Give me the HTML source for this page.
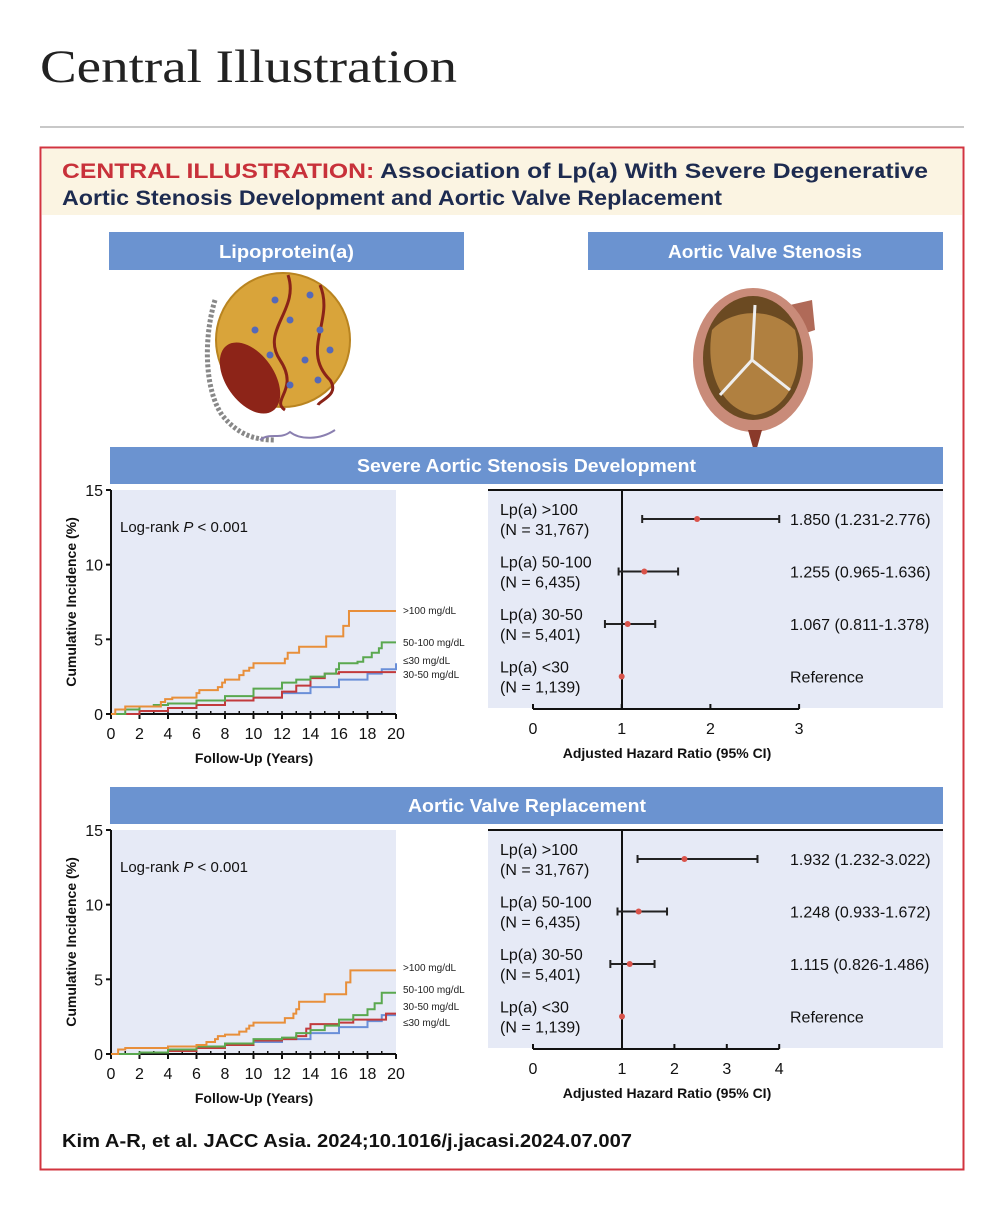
<!DOCTYPE html>
<html><head><meta charset="utf-8"><style>
body{margin:0;background:#fff;width:1004px;height:1200px;overflow:hidden;font-family:"Liberation Sans",sans-serif}
svg text{font-family:"Liberation Sans",sans-serif}
</style></head><body>
<svg id="root" width="1004" height="1200" viewBox="0 0 1004 1200" xmlns="http://www.w3.org/2000/svg">
<text x="40" y="82" font-family="Liberation Serif" style="font-family:'Liberation Serif',serif" font-size="47" textLength="417" lengthAdjust="spacingAndGlyphs" fill="#222">Central Illustration</text>
<rect x="40" y="126" width="924" height="2" fill="#c8c8c8"/>
<rect x="40.5" y="147.5" width="923" height="1022" fill="#fff" stroke="#d2343f" stroke-width="2"/>
<rect x="42" y="149" width="920" height="66" fill="#fbf4e2"/>
<text x="62" y="178" font-size="21" font-weight="bold" textLength="866" lengthAdjust="spacingAndGlyphs"><tspan fill="#c8313a">CENTRAL ILLUSTRATION:</tspan><tspan fill="#1d2b50"> Association of Lp(a) With Severe Degenerative</tspan></text>
<text x="62" y="205" font-size="21" font-weight="bold" fill="#1d2b50" textLength="660" lengthAdjust="spacingAndGlyphs">Aortic Stenosis Development and Aortic Valve Replacement</text>

<rect x="109" y="232" width="355" height="38" fill="#6b93d0"/>
<text x="219" y="258" font-size="18" font-weight="bold" fill="#fff" textLength="135" lengthAdjust="spacingAndGlyphs">Lipoprotein(a)</text>
<rect x="588" y="232" width="355" height="38" fill="#6b93d0"/>
<text x="668" y="258" font-size="18" font-weight="bold" fill="#fff" textLength="194" lengthAdjust="spacingAndGlyphs">Aortic Valve Stenosis</text>

<g>
<path d="M215,300 C203,340 205,390 222,415 C238,435 255,440 275,440" fill="none" stroke="#888" stroke-width="5" stroke-dasharray="3 2"/>
<path d="M260,440 C270,432 280,440 290,432 C300,440 320,440 335,430" fill="none" stroke="#8a7fb0" stroke-width="2"/>
<circle cx="283" cy="340" r="67" fill="#d9a43a"/>
<circle cx="283" cy="340" r="67" fill="none" stroke="#b98420" stroke-width="2"/>
<path d="M288,275 C300,310 260,330 280,360 C300,390 270,400 285,410" fill="none" stroke="#8a2318" stroke-width="3"/>
<path d="M320,285 C335,320 300,350 330,380 C340,395 320,400 318,405" fill="none" stroke="#8a2318" stroke-width="3"/>
<ellipse cx="250" cy="378" rx="24" ry="40" transform="rotate(-35 250 378)" fill="#8d2418"/>
<g fill="#5569b8"><circle cx="275" cy="300" r="3.5"/><circle cx="310" cy="295" r="3.5"/><circle cx="255" cy="330" r="3.5"/><circle cx="290" cy="320" r="3.5"/><circle cx="320" cy="330" r="3.5"/><circle cx="270" cy="355" r="3.5"/><circle cx="305" cy="360" r="3.5"/><circle cx="330" cy="350" r="3.5"/><circle cx="290" cy="385" r="3.5"/><circle cx="318" cy="380" r="3.5"/></g>
</g>
<g>
<path d="M790,305 L812,300 L815,330 L800,335 Z" fill="#b06a58"/>
<ellipse cx="753" cy="360" rx="60" ry="72" fill="#c98b79"/>
<ellipse cx="753" cy="358" rx="50" ry="62" fill="#6b4a22"/>
<path d="M712,330 C730,310 770,305 795,330 C805,370 790,410 755,415 C720,410 705,370 712,330 Z" fill="#b08040"/>
<path d="M755,305 L752,360 L720,395 M752,360 L790,390" stroke="#eee" stroke-width="3" fill="none"/>
<path d="M748,430 L755,455 L762,430 Z" fill="#8a3a2a"/>
</g>

<rect x="110" y="447" width="833" height="37" fill="#6b93d0"/>
<text x="357" y="472" font-size="18" font-weight="bold" fill="#fff" textLength="339" lengthAdjust="spacingAndGlyphs">Severe Aortic Stenosis Development</text>
<rect x="110" y="787" width="833" height="37" fill="#6b93d0"/>
<text x="408" y="812" font-size="18" font-weight="bold" fill="#fff" textLength="238" lengthAdjust="spacingAndGlyphs">Aortic Valve Replacement</text>

<g id="km1"></g>
<g id="km2"></g>
<g id="fp1"></g>
<g id="fp2"></g>

<text x="62" y="1147" font-size="18" font-weight="bold" fill="#111" textLength="570" lengthAdjust="spacingAndGlyphs">Kim A-R, et al. JACC Asia. 2024;10.1016/j.jacasi.2024.07.007</text>
</svg>
<script>
// ===== KM chart data =====
const kmYTicks = [0, 5, 10, 15];
const kmXTicks = [0, 2, 4, 6, 8, 10, 12, 14, 16, 18, 20];
const kmSeriesNames = [">100 mg/dL", "50-100 mg/dL", "≤30 mg/dL", "30-50 mg/dL"];
// chart 1 (severe AS)
const km1GT100_t = [0, 0.3, 1, 3.5, 3.8, 4.3, 6.0, 6.2, 7.5, 7.8, 8.0, 9.0, 9.3, 9.7, 10.0, 12.2, 12.4, 13.2, 15.1, 16.3, 16.7, 20];
const km1GT100_v = [0, 0.3, 0.5, 0.8, 1.0, 1.1, 1.4, 1.6, 1.8, 2.1, 2.3, 2.6, 2.9, 3.1, 3.4, 3.7, 4.1, 4.5, 5.2, 5.9, 6.9, 6.9];
const km1_50_t = [0, 1, 2, 3, 4, 6, 8, 10, 12, 13, 14, 15, 15.8, 16, 17.3, 17.7, 18.3, 18.8, 19, 20];
const km1_50_v = [0, 0.3, 0.5, 0.6, 0.7, 0.9, 1.2, 1.7, 2.1, 2.3, 2.5, 2.7, 3.0, 3.4, 3.5, 3.8, 4.1, 4.4, 4.8, 4.8];
const km1LE30_t = [0, 2, 4, 6, 8, 10, 12, 14, 16, 18, 19, 20];
const km1LE30_v = [0, 0.2, 0.4, 0.6, 0.9, 1.1, 1.4, 1.8, 2.3, 2.7, 3.0, 3.4];
const km1_30_t = [0, 2, 4, 6, 8, 10, 12, 13, 14, 15, 16, 20];
const km1_30_v = [0, 0.2, 0.4, 0.6, 0.9, 1.1, 1.5, 1.9, 2.4, 2.7, 2.8, 2.8];
// chart 2 (AVR)
const km2GT100_t = [0, 0.5, 1, 4, 6, 6.7, 7.3, 7.5, 8, 9, 9.5, 9.7, 10, 12.2, 12.8, 13, 13.2, 15, 16.5, 16.8, 20];
const km2GT100_v = [0, 0.3, 0.4, 0.5, 0.6, 0.8, 1.0, 1.2, 1.3, 1.5, 1.7, 1.9, 2.1, 2.4, 2.7, 3.0, 3.5, 4.0, 4.8, 5.6, 5.6];
const km2_50_t = [0, 2, 4, 6, 8, 10, 12, 13, 14, 15, 16, 17, 18, 18.5, 19, 20];
const km2_50_v = [0, 0.1, 0.3, 0.5, 0.7, 1.0, 1.1, 1.4, 1.6, 1.9, 2.3, 2.6, 3.0, 3.4, 4.1, 4.1];
const km2LE30_t = [0, 2, 4, 6, 8, 10, 12, 14, 16, 18, 19, 20];
const km2LE30_v = [0, 0.1, 0.2, 0.4, 0.6, 0.8, 1.0, 1.4, 1.8, 2.2, 2.6, 2.6];
const km2_30_t = [0, 2, 4, 6, 8, 10, 12, 13, 13.7, 14, 16, 17, 19.3, 20];
const km2_30_v = [0, 0.1, 0.2, 0.4, 0.6, 0.9, 1.0, 1.2, 1.7, 2.0, 2.1, 2.3, 2.7, 2.7];

// ===== Forest plot data =====
const fpLabels1 = ["Lp(a) >100", "Lp(a) 50-100", "Lp(a) 30-50", "Lp(a) <30"];
const fpN = ["(N = 31,767)", "(N = 6,435)", "(N = 5,401)", "(N = 1,139)"];
const fp1HR = [1.850, 1.255, 1.067, 1.0];
const fp1Lo = [1.231, 0.965, 0.811, 1.0];
const fp1Hi = [2.776, 1.636, 1.378, 1.0];
const fp1Text = ["1.850 (1.231-2.776)", "1.255 (0.965-1.636)", "1.067 (0.811-1.378)", "Reference"];
const fp1Ticks = [0, 1, 2, 3];
const fp2HR = [1.932, 1.248, 1.115, 1.0];
const fp2Lo = [1.232, 0.933, 0.826, 1.0];
const fp2Hi = [3.022, 1.672, 1.486, 1.0];
const fp2Text = ["1.932 (1.232-3.022)", "1.248 (0.933-1.672)", "1.115 (0.826-1.486)", "Reference"];
const fp2Ticks = [0, 1, 2, 3, 4];

const NS = "http://www.w3.org/2000/svg";
function mk(parent, tag, attrs, txt) {
  const e = document.createElementNS(NS, tag);
  for (const k in attrs) e.setAttribute(k, attrs[k]);
  if (txt !== undefined) e.textContent = txt;
  parent.appendChild(e);
  return e;
}
const colors = ["#e88f3a", "#5aa84f", "#6a8fd8", "#c23a3c"];

function drawKM(g, top, series, labelYs) {
  const x0 = 111, x1 = 396, y0 = top + 224, y1 = top;
  const sx = t => x0 + (t / 20) * (x1 - x0);
  const sy = v => y0 - (v / 15) * (y0 - y1);
  let e = mk(g, "rect", {x: x0, y: y1, width: x1 - x0, height: y0 - y1, fill: "#e6eaf6"});
  
  
  e = mk(g, "line", {x1: x0, y1: y1, x2: x0, y2: y0, stroke: "#111", "stroke-width": 2});
  
  
  e = mk(g, "line", {x1: x0, y1: y0, x2: x1, y2: y0, stroke: "#111", "stroke-width": 2});
  
  
  kmYTicks.forEach(v => {
    mk(g, "line", {x1: x0 - 5, y1: sy(v), x2: x0, y2: sy(v), stroke: "#111", "stroke-width": 2});
    const t = mk(g, "text", {x: x0 - 8, y: sy(v) + 6, "font-size": 16, "text-anchor": "end", fill: "#111"}, v);
    
    
  });
  for (let i = 1; i < 20; i++) mk(g, "line", {x1: sx(i), y1: y0, x2: sx(i), y2: y0 - 3, stroke: "#111", "stroke-width": 1.5});
  kmXTicks.forEach(v => {
    mk(g, "line", {x1: sx(v), y1: y0, x2: sx(v), y2: y0 + 5, stroke: "#111", "stroke-width": 2});
    const t = mk(g, "text", {x: sx(v), y: y0 + 25, "font-size": 16, "text-anchor": "middle", fill: "#111"}, v);
    
    
  });
  let t = mk(g, "text", {x: 254, y: y0 + 49, "font-size": 14, "font-weight": "bold", "text-anchor": "middle", fill: "#111"}, "Follow-Up (Years)");
  
  
  t = mk(g, "text", {x: 76, y: (y0 + y1) / 2, "font-size": 14, "font-weight": "bold", "text-anchor": "middle", fill: "#111", transform: `rotate(-90 76 ${(y0 + y1) / 2})`}, "Cumulative Incidence (%)");
  
  
  t = mk(g, "text", {x: 120, y: top + 42, "font-size": 15, fill: "#111"});
  t.innerHTML = 'Log-rank <tspan font-style="italic">P</tspan> &lt; 0.001';
  
  
  series.forEach((s, i) => {
    let d = `M${sx(s.t[0])},${sy(s.v[0])}`;
    for (let k = 1; k < s.t.length; k++) d += ` H${sx(s.t[k])} V${sy(s.v[k])}`;
    const p = mk(g, "path", {d: d, fill: "none", stroke: colors[s.c], "stroke-width": 2});
    
    
  });
  labelYs.forEach(l => {
    const lt = mk(g, "text", {x: 403, y: l.y, "font-size": 10, fill: "#222"}, l.s);
    
    
  });
}

drawKM(document.getElementById("km1"), 490, [
  {t: km1LE30_t, v: km1LE30_v, c: 2},
  {t: km1_30_t, v: km1_30_v, c: 3},
  {t: km1_50_t, v: km1_50_v, c: 1},
  {t: km1GT100_t, v: km1GT100_v, c: 0}
], [{y: 614, s: kmSeriesNames[0]}, {y: 646, s: kmSeriesNames[1]}, {y: 664, s: kmSeriesNames[2]}, {y: 678, s: kmSeriesNames[3]}]);
drawKM(document.getElementById("km2"), 830, [
  {t: km2LE30_t, v: km2LE30_v, c: 2},
  {t: km2_30_t, v: km2_30_v, c: 3},
  {t: km2_50_t, v: km2_50_v, c: 1},
  {t: km2GT100_t, v: km2GT100_v, c: 0}
], [{y: 971, s: kmSeriesNames[0]}, {y: 993, s: kmSeriesNames[1]}, {y: 1010, s: kmSeriesNames[3]}, {y: 1026, s: kmSeriesNames[2]}]);

function drawFP(g, top, hr, lo, hi, txt, ticks, markScale, tickScale) {
  const axisY = top + 219;
  let e = mk(g, "rect", {x: 488, y: top, width: 455, height: axisY - top - 1, fill: "#e6eaf6"});
  
  
  mk(g, "line", {x1: 488, y1: top, x2: 943, y2: top, stroke: "#111", "stroke-width": 2});
  mk(g, "line", {x1: 622, y1: top, x2: 622, y2: axisY, stroke: "#111", "stroke-width": 2});
  const axEnd = tickScale(ticks[ticks.length - 1]);
  e = mk(g, "line", {x1: 533, y1: axisY, x2: axEnd, y2: axisY, stroke: "#111", "stroke-width": 2});
  
  
  ticks.forEach(v => {
    mk(g, "line", {x1: tickScale(v), y1: axisY, x2: tickScale(v), y2: axisY - 5, stroke: "#111", "stroke-width": 2});
    const t = mk(g, "text", {x: tickScale(v), y: axisY + 25, "font-size": 16, "text-anchor": "middle", fill: "#111"}, v);
    
    
  });
  let t = mk(g, "text", {x: 667, y: axisY + 49, "font-size": 14, "font-weight": "bold", "text-anchor": "middle", fill: "#111"}, "Adjusted Hazard Ratio (95% CI)");
  
  
  hr.forEach((h, i) => {
    const cy = top + 29 + i * 52.5;
    const l1 = mk(g, "text", {x: 500, y: cy - 4, "font-size": 16, fill: "#111"}, fpLabels1[i]);
    
    
    const l2 = mk(g, "text", {x: 500, y: cy + 16, "font-size": 16, fill: "#111"}, fpN[i]);
    
    
    if (hi[i] > lo[i]) {
      const ci = mk(g, "line", {x1: markScale(lo[i]), y1: cy, x2: markScale(hi[i]), y2: cy, stroke: "#222", "stroke-width": 2});
      
      
      mk(g, "line", {x1: markScale(lo[i]), y1: cy - 4, x2: markScale(lo[i]), y2: cy + 4, stroke: "#222", "stroke-width": 2});
      mk(g, "line", {x1: markScale(hi[i]), y1: cy - 4, x2: markScale(hi[i]), y2: cy + 4, stroke: "#222", "stroke-width": 2});
    }
    const pt = mk(g, "circle", {cx: markScale(h), cy: cy, r: 3, fill: "#d9534a"});
    
    
    const vt = mk(g, "text", {x: 790, y: cy + 6, "font-size": 16, fill: "#111"}, txt[i]);
    
    
  });
}
const lin1 = v => 533 + v * 88.7;
drawFP(document.getElementById("fp1"), 490, fp1HR, fp1Lo, fp1Hi, fp1Text, fp1Ticks, lin1, lin1);
drawFP(document.getElementById("fp2"), 830, fp2HR, fp2Lo, fp2Hi, fp2Text, fp2Ticks,
  v => 622 + (v - 1) * 67,
  v => v <= 1 ? 533 + v * 89 : 622 + (v - 1) * 52.4);
</script>
</body></html>
